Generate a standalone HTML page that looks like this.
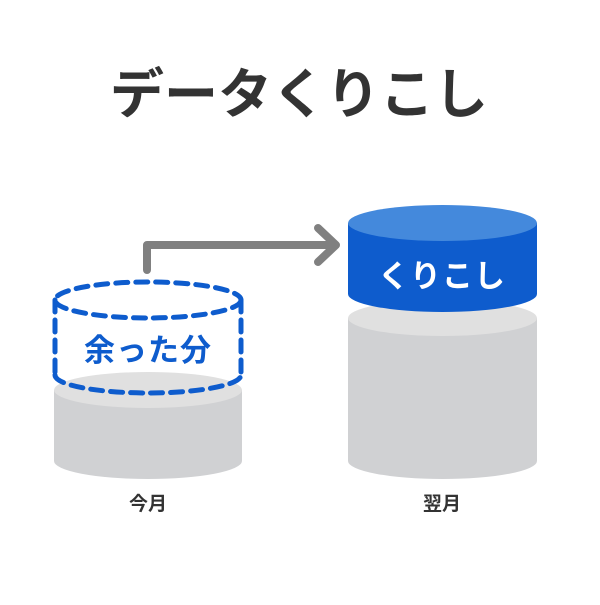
<!DOCTYPE html>
<html><head><meta charset="utf-8"><style>
body{margin:0;background:#fff;width:600px;height:600px;overflow:hidden}
</style></head><body>
<svg width="600" height="600" xmlns="http://www.w3.org/2000/svg" style="font-family:'Liberation Sans','Noto Sans CJK JP',sans-serif">
<text x="299" y="113" text-anchor="middle" font-size="54" font-weight="bold" fill="#333">データくりこし</text>
<!-- left cylinder -->
<path d="M54 390 L54 461 A94 18 0 0 0 242 461 L242 390 Z" fill="#d0d1d3"/>
<ellipse cx="148" cy="390" rx="94" ry="18" fill="#e0e0e0"/>
<!-- dashed -->
<g fill="none" stroke="#0e5ccd" stroke-width="5" stroke-dasharray="12 8" stroke-linecap="round">
<ellipse cx="148" cy="300" rx="93" ry="18"/>
<path d="M55 375 A93 18 0 0 0 241 375"/>
<path d="M55 300 L55 375"/>
<path d="M241 300 L241 375"/>
</g>
<text x="148" y="361" text-anchor="middle" font-size="31" font-weight="bold" fill="#0e5ccd" letter-spacing="1">余った分</text>
<!-- arrow -->
<g fill="none" stroke="#808080" stroke-width="8" stroke-linecap="round" stroke-linejoin="round">
<path d="M147 270 L147 245 L334 245"/>
<path d="M318 228 L336 245 L318 262"/>
</g>
<!-- right cylinder -->
<path d="M348 318 L348 461 A94.5 18 0 0 0 537 461 L537 318 Z" fill="#d0d1d3"/>
<ellipse cx="442.5" cy="318" rx="94.5" ry="18" fill="#e0e0e0"/>
<path d="M348 223 L348 294 A94.5 18 0 0 0 537 294 L537 223 Z" fill="#0e5ccd"/>
<ellipse cx="442.5" cy="223" rx="94.5" ry="18" fill="#4489dc"/>
<text x="442" y="287" text-anchor="middle" font-size="31" font-weight="bold" fill="#fff" letter-spacing="1">くりこし</text>
<text x="148" y="510" text-anchor="middle" font-size="19" font-weight="bold" fill="#333">今月</text>
<text x="442" y="510" text-anchor="middle" font-size="19" font-weight="bold" fill="#333">翌月</text>
</svg>
</body></html>
